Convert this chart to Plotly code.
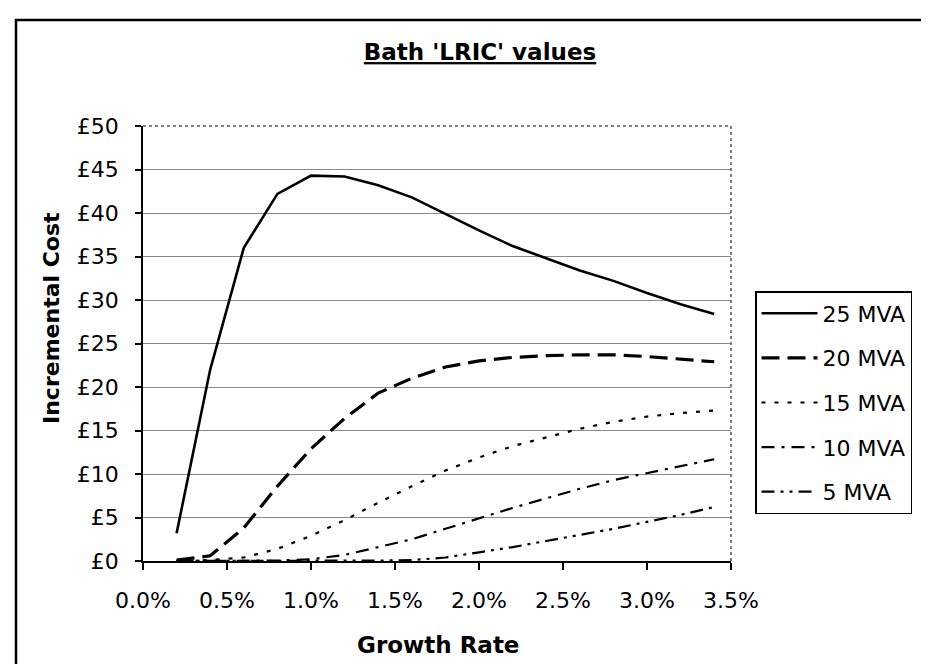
import plotly.graph_objects as go

growth = [0.002, 0.004, 0.006, 0.008, 0.010, 0.012, 0.014, 0.016, 0.018,
          0.020, 0.022, 0.024, 0.026, 0.028, 0.030, 0.032, 0.034]
mva25 = [3.2, 22.0, 36.0, 42.2, 44.3, 44.2, 43.2, 41.8, 39.9, 38.0, 36.2,
         34.8, 33.4, 32.2, 30.8, 29.5, 28.4]
mva20 = [0.1, 0.6, 3.8, 8.6, 12.9, 16.4, 19.3, 21.0, 22.3, 23.0, 23.4,
         23.6, 23.7, 23.7, 23.5, 23.2, 22.9]
mva15 = [0.0, 0.1, 0.4, 1.4, 2.9, 4.7, 6.7, 8.6, 10.4, 11.9, 13.2, 14.2,
         15.2, 16.0, 16.6, 17.0, 17.3]
mva10 = [0.0, 0.0, 0.0, 0.05, 0.2, 0.7, 1.6, 2.5, 3.7, 4.9, 6.1, 7.2,
         8.3, 9.3, 10.1, 10.9, 11.7]
mva5 = [0.0, 0.0, 0.0, 0.0, 0.0, 0.0, 0.05, 0.1, 0.4, 1.0, 1.6, 2.3,
        3.0, 3.7, 4.5, 5.3, 6.2]
series_names = ["25 MVA", "20 MVA", "15 MVA", "10 MVA", "5 MVA"]
x_ticks = [0.0, 0.005, 0.010, 0.015, 0.020, 0.025, 0.030, 0.035]
x_labels = ["0.0%", "0.5%", "1.0%", "1.5%", "2.0%", "2.5%", "3.0%", "3.5%"]
y_ticks = [0, 5, 10, 15, 20, 25, 30, 35, 40, 45, 50]
y_labels = ["£0", "£5", "£10", "£15", "£20", "£25", "£30", "£35", "£40", "£45", "£50"]

W, H = 929, 664
L, R, T, B = 135, 723, 118, 553
FONT = "DejaVu Sans"


def px_x(px):
    return (px - L) / (R - L)


def px_y(py):
    return (B - py) / (B - T)


styles = [
    dict(dash="solid", width=2.6),
    dict(dash="18px,8px", width=3.2),
    dict(dash="4px,9px", width=2.2),
    dict(dash="13px,7px,3px,7px", width=2.2),
    dict(dash="13px,6px,3px,6px,3px,6px", width=2.2),
]

fig = go.Figure()
for i, (name, ys) in enumerate(zip(series_names, [mva25, mva20, mva15, mva10, mva5])):
    fig.add_trace(go.Scatter(
        x=growth, y=ys, name=name, mode="lines",
        line=dict(color="black", **styles[i]),
        legendgroup=f"g{i}",
    ))

fig.update_layout(
    width=W, height=H,
    margin=dict(l=L, r=W - R, t=T, b=H - B, pad=0),
    paper_bgcolor="white", plot_bgcolor="white",
    font=dict(family=FONT, size=22, color="black"),
    title=dict(text="<b><u>Bath 'LRIC' values</u></b>", x=px_x(472), xref="paper",
               xanchor="center", y=1 - 44 / H, yref="container", yanchor="middle",
               font=dict(size=23, family=FONT)),
    showlegend=True,
    legend=dict(x=px_x(747), y=px_y(283), xanchor="left", yanchor="top",
                bordercolor="black", borderwidth=1.5, bgcolor="white",
                font=dict(size=22, family=FONT), tracegroupgap=13,
                traceorder="grouped", itemwidth=56),
)

fig.update_xaxes(
    range=[0, 0.035], tickvals=x_ticks, ticktext=x_labels,
    showgrid=False, zeroline=False,
    showline=True, linecolor="black", linewidth=1.5,
    ticks="outside", ticklen=7, tickcolor="black", tickwidth=1.5,
    ticklabelstandoff=12,
    tickfont=dict(size=22, family=FONT),
)
fig.update_yaxes(
    range=[0, 50], tickvals=y_ticks, ticktext=y_labels,
    showgrid=True, gridcolor="#8a8a8a", gridwidth=1, zeroline=False,
    showline=True, linecolor="black", linewidth=1.5,
    ticks="outside", ticklen=6, tickcolor="black", tickwidth=1.5,
    ticklabelstandoff=12,
    tickfont=dict(size=22, family=FONT),
)

# axis titles placed at the reference positions
fig.add_annotation(text="<b>Growth Rate</b>", xref="paper", yref="paper",
                   x=px_x(430), y=px_y(637), xanchor="center", yanchor="middle",
                   showarrow=False, font=dict(size=23, family=FONT))
fig.add_annotation(text="<b>Incremental Cost</b>", xref="paper", yref="paper",
                   x=px_x(43), y=px_y(310), xanchor="center", yanchor="middle",
                   textangle=-90, showarrow=False, font=dict(size=22, family=FONT))

# plot area top/right dotted border
fig.add_shape(type="line", xref="paper", yref="paper", x0=0, x1=1, y0=1, y1=1,
              line=dict(color="#555555", width=1.5, dash="dot"))
fig.add_shape(type="line", xref="paper", yref="paper", x0=1, x1=1, y0=0, y1=1,
              line=dict(color="#555555", width=1.5, dash="dot"))
# outer chart border (bottom edge lies outside the picture)
fig.add_shape(type="rect", xref="paper", yref="paper",
              x0=px_x(8), x1=px_x(926), y0=px_y(680), y1=px_y(12),
              line=dict(color="black", width=2.5), fillcolor="rgba(0,0,0,0)")

fig.write_html("out.html")
